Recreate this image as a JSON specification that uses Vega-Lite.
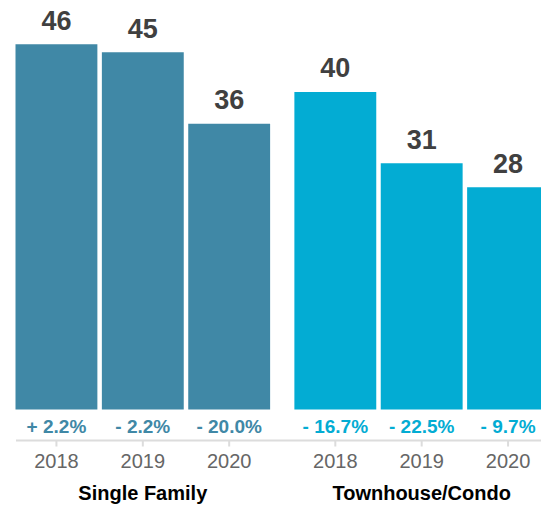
{
  "$schema": "https://vega.github.io/schema/vega-lite/v6.json",
  "width": 541,
  "height": 440,
  "autosize": "none",
  "padding": {"left": 0, "top": 0, "right": 0, "bottom": 66},
  "background": "white",
  "config": {"view": {"stroke": null}, "font": "Liberation Sans"},
  "data": {
    "values": [
      {"group": "Single Family", "year": "2018", "value": 46, "change": "+ 2.2%"},
      {"group": "Single Family", "year": "2019", "value": 45, "change": "- 2.2%"},
      {"group": "Single Family", "year": "2020", "value": 36, "change": "- 20.0%"},
      {"group": "Townhouse/Condo", "year": "2018", "value": 40, "change": "- 16.7%"},
      {"group": "Townhouse/Condo", "year": "2019", "value": 31, "change": "- 22.5%"},
      {"group": "Townhouse/Condo", "year": "2020", "value": 28, "change": "- 9.7%"}
    ]
  },
  "encoding": {
    "x": {
      "field": "group",
      "type": "nominal",
      "sort": ["Single Family", "Townhouse/Condo"],
      "scale": {"range": [15.5, 549], "paddingInner": 0.087, "paddingOuter": 0},
      "axis": {
        "title": null,
        "ticks": false,
        "tickSize": 0,
        "labelAngle": 0,
        "labelPadding": 59,
        "labelBaseline": "alphabetic",
        "labelFontSize": 20,
        "labelFontWeight": "bold",
        "labelColor": "black",
        "domainColor": "#dcdcdc",
        "domainWidth": 2
      }
    },
    "xOffset": {
      "field": "year",
      "type": "nominal",
      "scale": {"paddingInner": 0.052, "paddingOuter": 0}
    }
  },
  "layer": [
    {
      "mark": "bar",
      "encoding": {
        "y": {
          "field": "value",
          "type": "quantitative",
          "scale": {"domain": [-3.84, 51.57], "nice": false, "zero": false},
          "axis": null
        },
        "y2": {"datum": 0},
        "color": {
          "field": "group",
          "type": "nominal",
          "scale": {"domain": ["Single Family", "Townhouse/Condo"], "range": ["#4088a6", "#03acd3"]},
          "legend": null
        }
      }
    },
    {
      "mark": {"type": "text", "baseline": "alphabetic", "dy": -14.5, "fontSize": 27, "fontWeight": "bold", "color": "#404040"},
      "encoding": {
        "y": {"field": "value", "type": "quantitative"},
        "text": {"field": "value", "type": "quantitative"}
      }
    },
    {
      "mark": {"type": "text", "baseline": "alphabetic", "dy": 23.5, "fontSize": 19, "fontWeight": "bold"},
      "encoding": {
        "y": {"datum": 0},
        "text": {"field": "change"},
        "color": {"field": "group", "type": "nominal", "legend": null}
      }
    },
    {
      "mark": {"type": "text", "baseline": "alphabetic", "dy": 58.5, "fontSize": 20, "color": "#666666"},
      "encoding": {
        "y": {"datum": 0},
        "text": {"field": "year"}
      }
    },
    {
      "mark": {"type": "rule", "color": "#dcdcdc", "strokeWidth": 2, "yOffset": 31, "y2Offset": 37},
      "encoding": {
        "y": {"datum": 0},
        "y2": {"datum": 0}
      }
    }
  ]
}
